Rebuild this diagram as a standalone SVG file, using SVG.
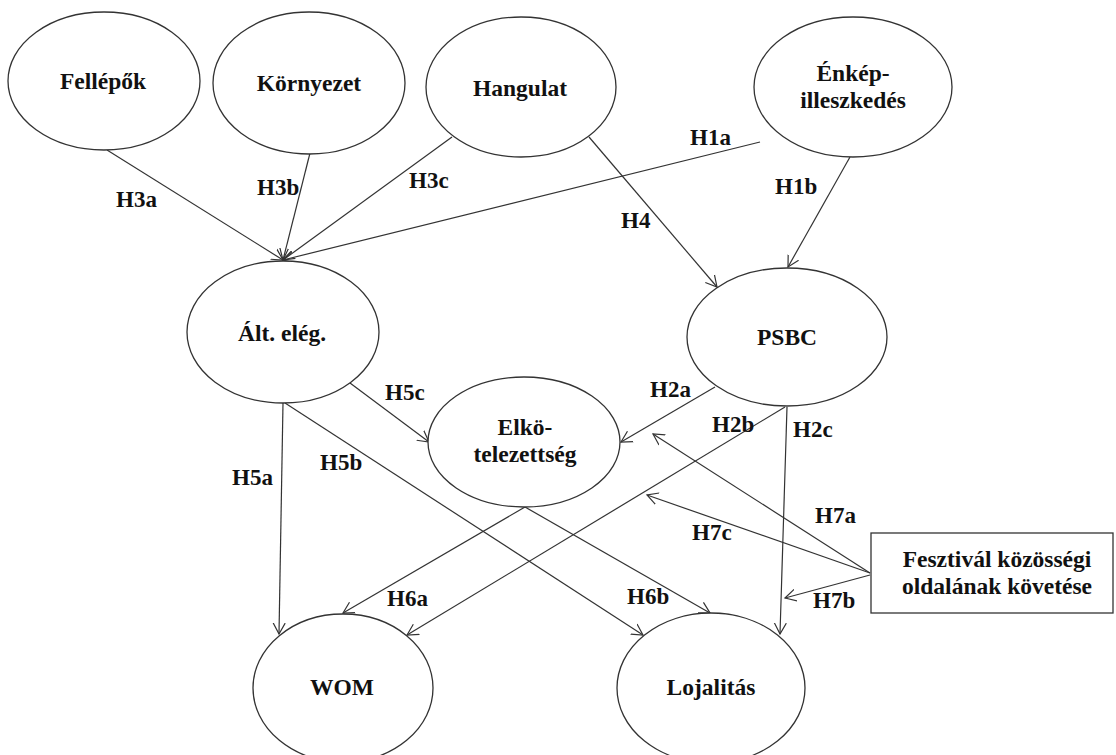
<svg xmlns="http://www.w3.org/2000/svg" width="1116" height="755" viewBox="0 0 1116 755">
<defs>
<marker id="arr" markerUnits="userSpaceOnUse" markerWidth="14" markerHeight="14" refX="11" refY="6" orient="auto" viewBox="0 0 14 12">
<path d="M0,0 L11,6 L0,12" fill="none" stroke="#333" stroke-width="1.2"/>
</marker>
<style>
.n{fill:#fff;stroke:#333;stroke-width:1.3}
.t{font-family:"Liberation Serif","Times New Roman",serif;font-weight:bold;font-size:23.5px;fill:#111;text-anchor:middle}
.l{font-family:"Liberation Serif","Times New Roman",serif;font-weight:bold;font-size:23px;fill:#111}
.c line{stroke:#333;stroke-width:1.2;marker-end:url(#arr)}
</style>
</defs>
<rect width="1116" height="755" fill="#fff"/>
<g class="c" id="connectors">
<line x1="107" y1="150" x2="283" y2="260"/>
<line x1="310" y1="153" x2="283" y2="260"/>
<line x1="452" y1="137" x2="283" y2="260"/>
<line x1="760" y1="142" x2="283" y2="260"/>
<line x1="589" y1="137" x2="717" y2="287"/>
<line x1="850" y1="157" x2="788" y2="267"/>
<line x1="350" y1="383" x2="429" y2="442"/>
<line x1="283" y1="403" x2="279" y2="634"/>
<line x1="285" y1="403" x2="643" y2="635"/>
<line x1="715" y1="387" x2="621" y2="442"/>
<line x1="785" y1="407" x2="407" y2="635"/>
<line x1="787" y1="407" x2="780" y2="634"/>
<line x1="525" y1="507" x2="343" y2="613"/>
<line x1="525" y1="507" x2="710" y2="613"/>
<line x1="870" y1="573" x2="653" y2="434"/>
<line x1="870" y1="573" x2="647" y2="495"/>
<line x1="870" y1="575" x2="785" y2="598"/>
</g>
<g id="labels">
<text class="l" x="116" y="207">H3a</text>
<text class="l" x="257" y="195">H3b</text>
<text class="l" x="409" y="188">H3c</text>
<text class="l" x="690" y="145">H1a</text>
<text class="l" x="621" y="228">H4</text>
<text class="l" x="775" y="194">H1b</text>
<text class="l" x="385" y="400">H5c</text>
<text class="l" x="232" y="485">H5a</text>
<text class="l" x="320" y="470">H5b</text>
<text class="l" x="650" y="397">H2a</text>
<text class="l" x="712" y="432">H2b</text>
<text class="l" x="793" y="437">H2c</text>
<text class="l" x="387" y="606">H6a</text>
<text class="l" x="627" y="604">H6b</text>
<text class="l" x="815" y="523">H7a</text>
<text class="l" x="692" y="540">H7c</text>
<text class="l" x="813" y="608">H7b</text>
</g>
<g id="fellepok"><ellipse class="n" cx="104" cy="81" rx="96" ry="69"/><text class="t" x="103" y="89">Fellépők</text></g>
<g id="kornyezet"><ellipse class="n" cx="309" cy="83" rx="96" ry="71"/><text class="t" x="309" y="91">Környezet</text></g>
<g id="hangulat"><ellipse class="n" cx="521" cy="87" rx="95" ry="70"/><text class="t" x="520" y="96">Hangulat</text></g>
<g id="enkep"><ellipse class="n" cx="853" cy="87" rx="99" ry="70"/><text class="t" x="853" y="81">Énkép-</text><text class="t" x="853" y="108">illeszkedés</text></g>
<g id="alteleg"><ellipse class="n" cx="283" cy="332" rx="96" ry="71"/><text class="t" x="282" y="341">Ált. elég.</text></g>
<g id="psbc"><ellipse class="n" cx="787" cy="337" rx="100" ry="69"/><text class="t" x="787" y="345">PSBC</text></g>
<g id="elkotelezettseg"><ellipse class="n" cx="524" cy="442" rx="96" ry="65"/><text class="t" x="525" y="435">Elkö-</text><text class="t" x="525" y="462">telezettség</text></g>
<g id="wom"><ellipse class="n" cx="343" cy="688" rx="90" ry="74"/><text class="t" x="342" y="695">WOM</text></g>
<g id="lojalitas"><ellipse class="n" cx="711" cy="688" rx="94" ry="75"/><text class="t" x="711" y="695">Lojalitás</text></g>
<g id="fesztival"><rect class="n" x="871" y="533" width="242" height="80"/><text class="t" x="997" y="567">Fesztivál közösségi</text><text class="t" x="997" y="594">oldalának követése</text></g>
</svg>
